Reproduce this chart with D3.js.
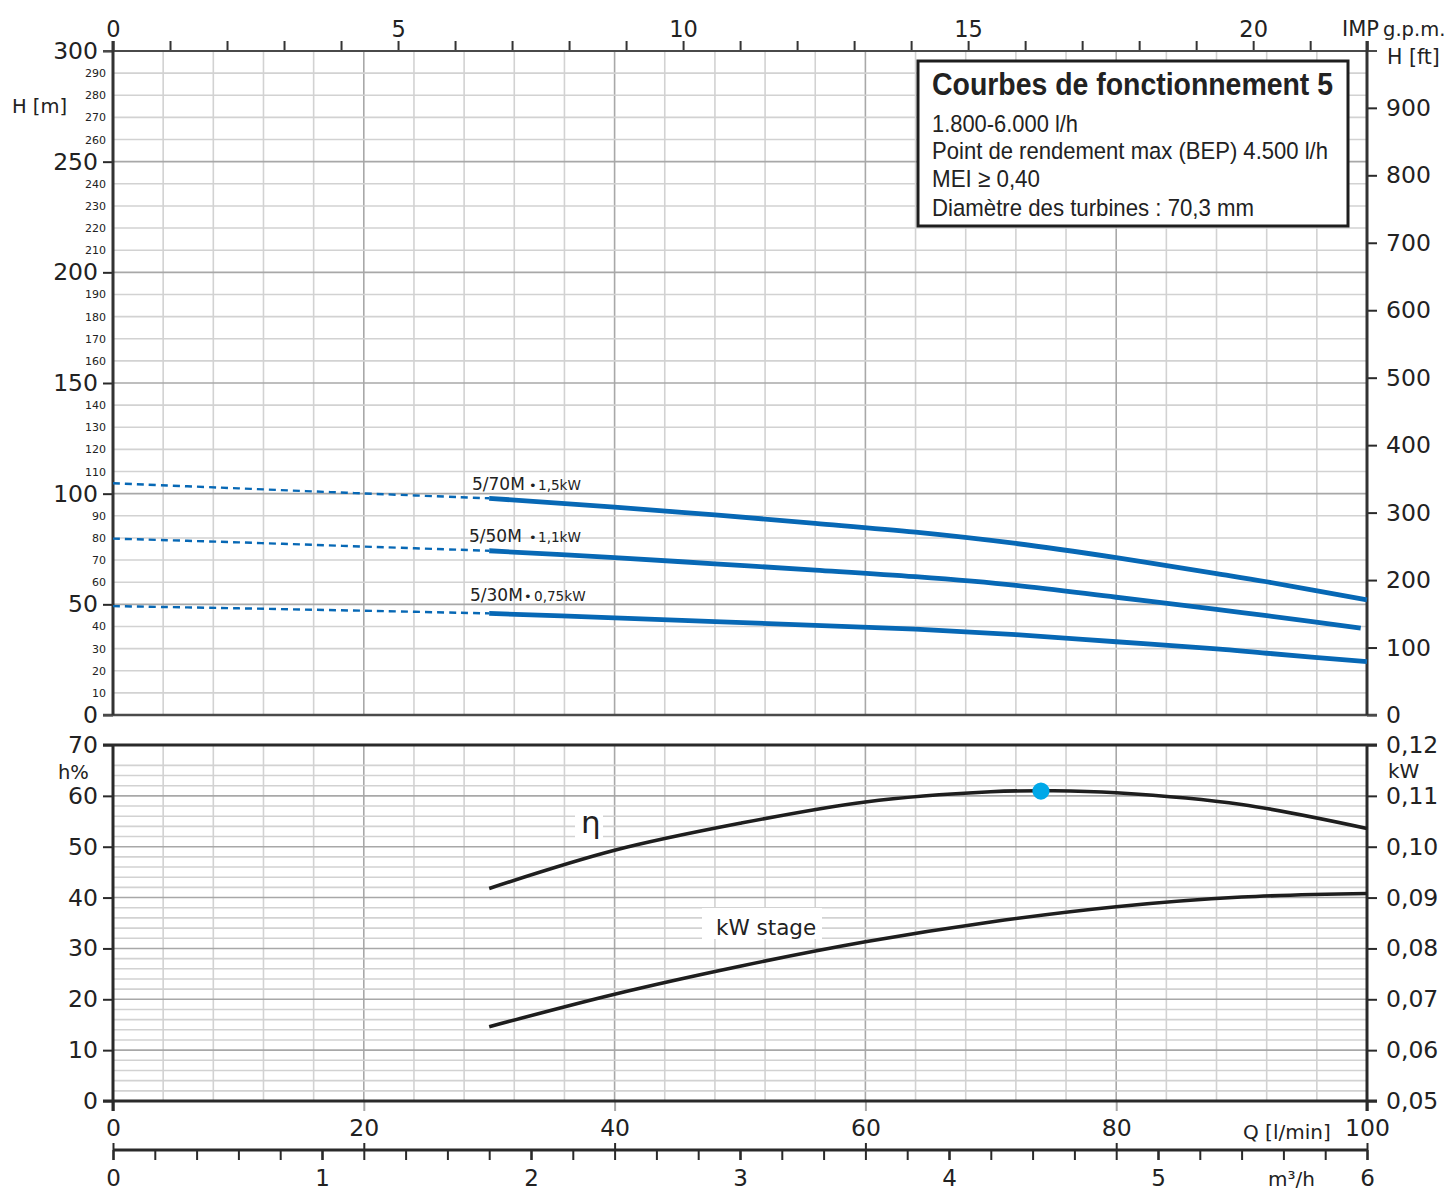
<!DOCTYPE html>
<html>
<head>
<meta charset="utf-8">
<script src="https://cdn.jsdelivr.net/npm/d3@7"></script>
<style>
html,body{margin:0;padding:0;background:#fff;}
svg{display:block;}
text{font-family:"DejaVu Sans",sans-serif;fill:#222;}
</style>
</head>
<body>
<svg id="chart" width="1450" height="1191"></svg>
<script>
// ---------- DATA ----------
const qSolid = [30, 40, 48, 56, 64, 72, 80, 88, 92, 100];
const h70Solid = [97.9, 93.9, 90.4, 86.6, 82.6, 77.5, 71.1, 63.9, 60.2, 52.0];
const q50Solid = [30, 40, 48, 56, 64, 72, 80, 88, 92, 99.5];
const h50Solid = [74.2, 71.1, 68.3, 65.5, 62.5, 58.6, 53.2, 47.7, 44.9, 39.2];
const h30Solid = [45.9, 43.9, 42.2, 40.5, 38.8, 36.3, 33.1, 29.9, 27.9, 24.1];

const qDash = [0, 10, 20, 30];
const h70Dash = [104.7, 102.4, 100.1, 97.9];
const h50Dash = [79.7, 78.0, 76.1, 74.2];
const h30Dash = [49.2, 48.2, 47.1, 45.9];

const qEta = [30, 40, 50, 60, 70, 75, 80, 90, 100];
const etaVals = [41.8, 49.3, 54.6, 58.8, 60.8, 61.0, 60.6, 58.3, 53.6];
const qKw = [30, 40, 50, 60, 70, 80, 90, 100];
const kwVals = [0.0646, 0.0710, 0.0765, 0.0813, 0.0852, 0.0882, 0.0901, 0.0908];
const bepQ = [74];
const bepEta = [60.95];

const hMajorTicks = [0, 50, 100, 150, 200, 250, 300];
const hMinorTicks = d3.range(10, 300, 10).filter(v => v % 50 !== 0);
const ftTicks = d3.range(0, 1000, 100);
const gpmTicks = d3.range(0, 23, 1);
const etaTicks = d3.range(0, 80, 10);
const kwTicks = [0.05, 0.06, 0.07, 0.08, 0.09, 0.10, 0.11, 0.12];
const qTicks = [0, 20, 40, 60, 80, 100];
const m3hTicks = d3.range(0, 31).map(i => i / 5);

const pumpLabels = ["5/70M", "5/50M", "5/30M"];
const powerLabels = ["1,5kW", "1,1kW", "0,75kW"];
const legendTitle = "Courbes de fonctionnement 5";
const legendLines = ["1.800-6.000 l/h", "Point de rendement max (BEP) 4.500 l/h", "MEI \u2265 0,40", "Diam\u00e8tre des turbines : 70,3 mm"];

// ---------- SCALES ----------
const X0 = 113, X1 = 1367;
const x = d3.scaleLinear([0, 100], [X0, X1]);
const yH = d3.scaleLinear([0, 300], [715, 51]);
const yFt = d3.scaleLinear([0, 300 / 0.3048], [715, 51]);
const xG = d3.scaleLinear([0, 100 / 4.54609], [X0, X1]);
const xM = d3.scaleLinear([0, 6], [X0, X1]);
const yE = d3.scaleLinear([0, 70], [1101, 745]);
const yK = d3.scaleLinear([0.05, 0.12], [1101, 745]);

const svg = d3.select("#chart");
const light = "#d2d2d2", mid = "#a8a8a8", dark = "#2a2a2a";

// ---------- GRID ----------
const grid = svg.append("g");
const vq = d3.range(4, 100, 4);
grid.selectAll(".vt").data(vq).join("line")
  .attr("x1", d => x(d)).attr("x2", d => x(d)).attr("y1", yH(300)).attr("y2", yH(0))
  .attr("stroke", d => d % 20 === 0 ? mid : light).attr("stroke-width", 1.6);
grid.selectAll(".ht").data(d3.range(10, 300, 10)).join("line")
  .attr("x1", X0).attr("x2", X1).attr("y1", d => yH(d)).attr("y2", d => yH(d))
  .attr("stroke", d => d % 50 === 0 ? mid : light).attr("stroke-width", 1.6);
grid.selectAll(".vb").data(vq).join("line")
  .attr("x1", d => x(d)).attr("x2", d => x(d)).attr("y1", yE(70)).attr("y2", yE(0))
  .attr("stroke", d => d % 20 === 0 ? mid : light).attr("stroke-width", 1.6);
grid.selectAll(".hb").data(d3.range(2, 68, 2)).join("line")
  .attr("x1", X0).attr("x2", X1).attr("y1", d => yE(d)).attr("y2", d => yE(d))
  .attr("stroke", d => d % 10 === 0 ? mid : light).attr("stroke-width", 1.6);

// ---------- AXES ----------
function styleAxis(g, size, color) {
  g.select(".domain").remove();
  g.selectAll(".tick line").attr("stroke", color || dark).attr("stroke-width", 2);
  g.selectAll(".tick text").style("font-size", size + "px").style("font-family", "DejaVu Sans").attr("fill", "#222");
}
// top chart left
svg.append("g").attr("transform", `translate(${X0},0)`)
  .call(d3.axisLeft(yH).tickValues(hMajorTicks).tickSize(10).tickPadding(5).tickFormat(d3.format("d")))
  .call(g => styleAxis(g, 23.5));
svg.append("g").attr("transform", `translate(${X0},0)`)
  .call(d3.axisLeft(yH).tickValues(hMinorTicks).tickSize(0).tickPadding(7).tickFormat(d3.format("d")))
  .call(g => styleAxis(g, 11));
// top gpm axis
svg.append("g").attr("transform", `translate(0,${yH(300)})`)
  .call(d3.axisTop(xG).tickValues(gpmTicks).tickSize(10).tickPadding(4).tickFormat(d => d % 5 === 0 ? d : ""))
  .call(g => styleAxis(g, 22.5, "#333"));
// right ft axis
svg.append("g").attr("transform", `translate(${X1},0)`)
  .call(d3.axisRight(yFt).tickValues(ftTicks).tickSize(10).tickPadding(9).tickFormat(d3.format("d")))
  .call(g => styleAxis(g, 23.5));
// bottom chart left
svg.append("g").attr("transform", `translate(${X0},0)`)
  .call(d3.axisLeft(yE).tickValues(etaTicks).tickSize(10).tickPadding(5).tickFormat(d3.format("d")))
  .call(g => styleAxis(g, 23.5));
// bottom chart right
svg.append("g").attr("transform", `translate(${X1},0)`)
  .call(d3.axisRight(yK).tickValues(kwTicks).tickSize(10).tickPadding(9).tickFormat(d => d3.format(".2f")(d).replace(".", ",")))
  .call(g => styleAxis(g, 23.5));
// Q axis
svg.append("g").attr("transform", `translate(0,${yE(0)})`)
  .call(d3.axisBottom(x).tickValues(qTicks).tickSize(10).tickPadding(8).tickFormat(d3.format("d")))
  .call(g => styleAxis(g, 23.5))
  .call(g => g.selectAll(".tick line").attr("stroke", d => (d === 0 || d === 100) ? dark : mid));
// m3/h axis
const yM = 1150;
svg.append("g").attr("transform", `translate(0,${yM})`)
  .call(d3.axisBottom(xM).tickValues(m3hTicks).tickSize(10).tickPadding(10).tickFormat(d => Math.abs(d - Math.round(d)) < 1e-6 ? Math.round(d) : ""))
  .call(g => styleAxis(g, 23))
  .call(g => g.selectAll(".tick line").attr("stroke-width", d => Math.abs(d - Math.round(d)) < 1e-6 ? 2.6 : 2));
svg.append("g").attr("transform", `translate(0,${yM})`)
  .call(d3.axisTop(x).tickValues(qTicks).tickSize(7).tickFormat(""))
  .call(g => styleAxis(g, 10));

// ---------- FRAME LINES ----------
const frame = svg.append("g").attr("fill", "none");
function ln(x1, y1, x2, y2, w, c) {
  frame.append("line").attr("x1", x1).attr("y1", y1).attr("x2", x2).attr("y2", y2)
    .attr("stroke", c).attr("stroke-width", w);
}
ln(103, yH(300), 1377, yH(300), 2.2, "#4a4a4a");
ln(103, yH(0), 1377, yH(0), 2.6, "#4a4a4a");
ln(X0, yH(300) - 10, X0, yH(0), 3, "#333");
ln(X1, yH(300) - 10, X1, yH(0), 3, "#333");
ln(103, yE(70), 1377, yE(70), 3, dark);
ln(103, yE(0), 1377, yE(0), 3, dark);
ln(X0, yE(70), X0, yE(0) + 10, 3, dark);
ln(X1, yE(70), X1, yE(0) + 10, 3, dark);
ln(X0, yM, X1, yM, 3, dark);

// ---------- CURVES ----------
const blue = "#0768b5";
const curves = svg.append("g").attr("fill", "none");
const smooth = d3.curveCatmullRom.alpha(0.5);
const lineH = d3.line().x(d => x(d[0])).y(d => yH(d[1])).curve(smooth);
const zip = (a, b) => a.map((v, i) => [v, b[i]]);
[[qDash, h70Dash], [qDash, h50Dash], [qDash, h30Dash]].forEach(([q, h]) => {
  curves.append("path").attr("d", lineH(zip(q, h))).attr("stroke", blue)
    .attr("stroke-width", 2.4).attr("stroke-dasharray", "7,5");
});
[[qSolid, h70Solid], [q50Solid, h50Solid], [qSolid, h30Solid]].forEach(([q, h]) => {
  curves.append("path").attr("d", lineH(zip(q, h))).attr("stroke", blue)
    .attr("stroke-width", 4.8);
});
const lineE = d3.line().x(d => x(d[0])).y(d => yE(d[1])).curve(smooth);
const lineK = d3.line().x(d => x(d[0])).y(d => yK(d[1])).curve(smooth);

// labels for bottom curves with white background
const ann = svg.append("g");
ann.append("rect").attr("x", 575).attr("y", 811).attr("width", 28).attr("height", 30).attr("fill", "#fff");
ann.append("rect").attr("x", 702).attr("y", 908).attr("width", 120).attr("height", 31).attr("fill", "#fff");

curves.append("path").attr("d", lineE(zip(qEta, etaVals))).attr("stroke", "#1e1e1e").attr("stroke-width", 3.6);
curves.append("path").attr("d", lineK(zip(qKw, kwVals))).attr("stroke", "#1e1e1e").attr("stroke-width", 3.6);
svg.selectAll(".bep").data(bepQ).join("circle")
  .attr("cx", d => x(d)).attr("cy", (d, i) => yE(bepEta[i])).attr("r", 8.6).attr("fill", "#00a8e8");

ann.append("text").attr("x", 581).attr("y", 833).style("font-size", "31px").text("\u03b7");
ann.append("text").attr("x", 716).attr("y", 935).style("font-size", "21.5px").text("kW stage");

// pump labels
const pumpPos = [[472, 490, 529, 538], [469, 542, 529, 538], [470, 601, 524, 534]];
pumpLabels.forEach((t, i) => {
  const [tx, ty, bx, px] = pumpPos[i];
  ann.append("text").attr("x", tx).attr("y", ty).style("font-size", "17px").text(t);
  ann.append("text").attr("x", bx).attr("y", ty).style("font-size", "13px").text("\u2022");
  ann.append("text").attr("x", px).attr("y", ty).style("font-size", "13.6px").text(powerLabels[i]);
});

// axis titles
const ttl = svg.append("g");
ttl.append("text").attr("x", 12).attr("y", 113).style("font-size", "19.5px").text("H [m]");
ttl.append("text").attr("x", 1342).attr("y", 36).style("font-size", "21px").text("IMP");
ttl.append("text").attr("x", 1383).attr("y", 36).style("font-size", "19.5px").text("g.p.m.");
ttl.append("text").attr("x", 1387).attr("y", 64).style("font-size", "20.5px").text("H [ft]");
ttl.append("text").attr("x", 58).attr("y", 779).style("font-size", "19.5px").text("h%");
ttl.append("text").attr("x", 1388).attr("y", 778).style("font-size", "20px").text("kW");
ttl.append("text").attr("x", 1243).attr("y", 1139).style("font-size", "20px").text("Q [l/min]");
ttl.append("text").attr("x", 1268).attr("y", 1186).style("font-size", "20px").text("m\u00b3/h");

// ---------- LEGEND BOX ----------
const lg = svg.append("g");
lg.append("rect").attr("x", 918).attr("y", 61).attr("width", 430).attr("height", 165)
  .attr("fill", "#fff").attr("stroke", "#1e1e1e").attr("stroke-width", 3);
function fitText(t, x0, y0, size, weight, width) {
  const el = lg.append("text").attr("x", x0).attr("y", y0)
    .style("font-family", "'Liberation Sans Narrow','Liberation Sans',Arial,sans-serif")
    .style("font-size", size + "px").style("font-weight", weight).text(t);
  el.attr("textLength", width).attr("lengthAdjust", "spacingAndGlyphs");
}
fitText(legendTitle, 932, 95, 31, "bold", 401);
const lgWidths = [146, 396, 108, 322];
const lgBase = [131.5, 159, 187, 216];
legendLines.forEach((t, i) => fitText(t, 932, lgBase[i], 24.5, "normal", lgWidths[i]));
</script>
</body>
</html>
